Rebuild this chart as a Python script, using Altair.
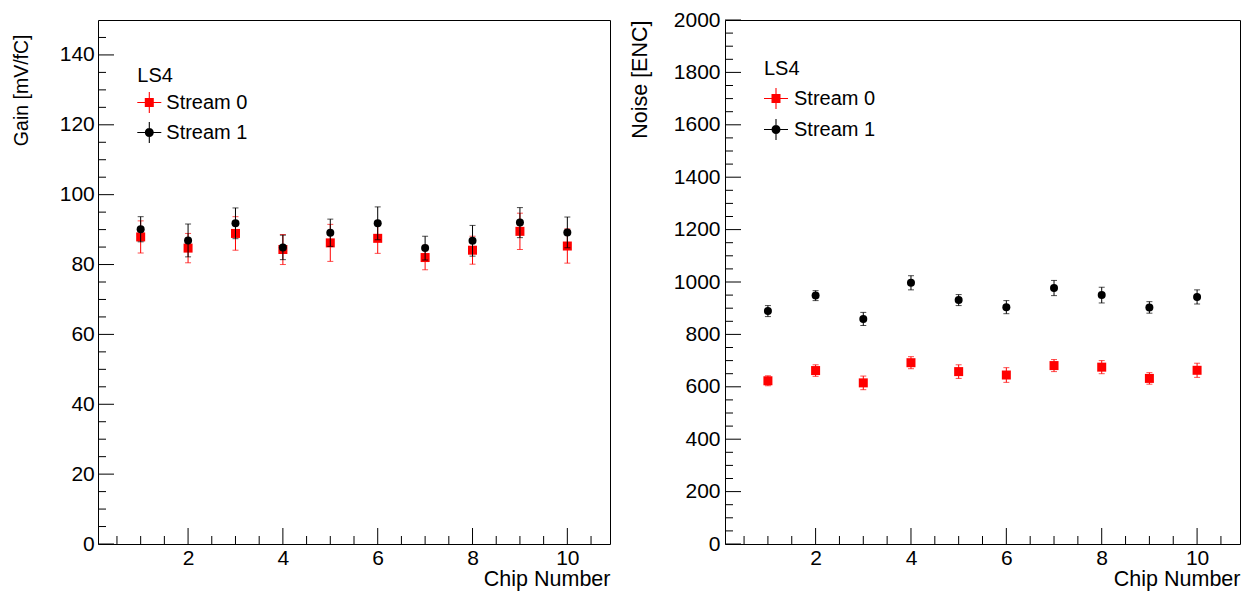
import altair as alt
import pandas as pd

FONT = "Liberation Sans"
AX_FS = 21

chips = [1, 2, 3, 4, 5, 6, 7, 8, 9, 10]
series_names = ["Stream 0", "Stream 1"]
series_colors = ["#ff0000", "#000000"]

gain_s0 = [87.9, 84.7, 88.9, 84.3, 86.2, 87.5, 82.0, 84.1, 89.5, 85.3]
gain_s0_err = [4.6, 4.2, 4.8, 4.3, 5.3, 4.3, 3.5, 4.0, 5.2, 4.9]
gain_s1 = [90.1, 86.9, 91.8, 84.9, 89.1, 91.8, 84.7, 86.8, 92.0, 89.2]
gain_s1_err = [3.6, 4.7, 4.4, 3.5, 3.9, 4.7, 3.4, 4.4, 4.3, 4.4]

noise_s0 = [623, 662, 615, 692, 658, 645, 681, 675, 632, 663]
noise_s0_err = [19, 22, 26, 23, 26, 28, 23, 25, 22, 27]
noise_s1 = [889, 948, 859, 997, 931, 904, 977, 950, 903, 943]
noise_s1_err = [21, 19, 25, 27, 21, 25, 29, 30, 22, 27]

x_major = [2, 4, 6, 8, 10]
x_minor = [0.5, 1, 1.5, 2.5, 3, 3.5, 4.5, 5, 5.5, 6.5, 7, 7.5, 8.5, 9, 9.5, 10.5]
gain_major = [0, 20, 40, 60, 80, 100, 120, 140]
gain_minor = [v for v in range(5, 150, 5) if v % 20]
noise_major = [0, 200, 400, 600, 800, 1000, 1200, 1400, 1600, 1800, 2000]
noise_minor = [v for v in range(50, 2000, 50) if v % 200]

# legend symbols: marker plus error cross (filled polygons)
CROSS = "M-1,-0.045H1V0.045H-1Z M-0.045,-0.875H0.045V0.875H-0.045Z "
SQ_PATH = CROSS + "M-0.375,-0.375H0.375V0.375H-0.375Z"
CI_PATH = CROSS + "M-0.375,0A0.375,0.375 0 1,1 0.375,0A0.375,0.375 0 1,1 -0.375,0Z"


def panel(v0, e0, v1, e1, ymax, ymaj, ymin, ytitle, width, height, ytitle_fs,
          title_x, title_y, leg_x, leg_y, leg_tpad, leg_rpad, leg_loff, label_pad):
    xs = alt.Scale(domain=[0.1, 10.9], nice=False, zero=False)
    ys = alt.Scale(domain=[0, ymax], nice=False, zero=False)
    xaxis = alt.Axis(values=x_major, title="Chip Number", ticks=False, domain=False,
                     grid=False, labelFont=FONT, labelFontSize=AX_FS, labelColor="black",
                     labelPadding=3, labelFlush=False, format="d", titleFont=FONT,
                     titleFontSize=21.5, titleFontWeight="normal", titleColor="black",
                     titleAlign="right", titleAnchor="end", titleBaseline="alphabetic",
                     titleX=width, titleY=41.7)
    yaxis = alt.Axis(values=ymaj, title=ytitle, ticks=False, domain=False, grid=False,
                     labelFont=FONT, labelFontSize=AX_FS, labelColor="black",
                     labelPadding=label_pad, labelFlush=False, format="d", titleFont=FONT,
                     titleFontSize=ytitle_fs, titleFontWeight="normal", titleColor="black",
                     titleAngle=270, titleAlign="right", titleAnchor="end",
                     titleBaseline="middle", titleX=title_x, titleY=title_y)

    def X(f):
        return alt.X(f, type="quantitative", scale=xs, axis=xaxis)

    def Y(f):
        return alt.Y(f, type="quantitative", scale=ys, axis=yaxis)

    layers = []
    frames = []
    for name, vals, errs, color, shape, size in [
        (series_names[0], v0, e0, series_colors[0], "square", 81),
        (series_names[1], v1, e1, series_colors[1], "circle", 64),
    ]:
        d = pd.DataFrame({"chip": chips, "val": vals, "err": errs, "series": name})
        d["lo"] = d["val"] - d["err"]
        d["hi"] = d["val"] + d["err"]
        frames.append(d)
        caps = pd.concat([
            pd.DataFrame({"chip": chips, "v": d["lo"]}),
            pd.DataFrame({"chip": chips, "v": d["hi"]}),
        ])
        layers.append(alt.Chart(d).mark_rule(color=color, strokeWidth=1).encode(
            x=X("chip"), y=Y("lo"), y2="hi"))
        layers.append(alt.Chart(caps).mark_tick(color=color, thickness=1, size=6,
                                                orient="horizontal").encode(
            x=X("chip"), y=Y("v")))
        layers.append(alt.Chart(d).mark_point(shape=shape, filled=True, size=size,
                                              color=color, opacity=1).encode(
            x=X("chip"), y=Y("val")))

    allpts = pd.concat(frames)
    leg = alt.Legend(orient="none", legendX=leg_x, legendY=leg_y, direction="vertical",
                     title="LS4", titleFont=FONT, titleFontSize=20,
                     titleFontWeight="normal", titleColor="black", titlePadding=leg_tpad,
                     labelFont=FONT, labelFontSize=20, labelColor="black",
                     labelOffset=leg_loff, symbolSize=576, symbolOpacity=1,
                     symbolStrokeWidth=0, rowPadding=leg_rpad, padding=0)
    layers.append(alt.Chart(allpts).mark_point(filled=True, opacity=0).encode(
        x=X("chip"), y=Y("val"),
        color=alt.Color("series:N", scale=alt.Scale(domain=series_names,
                                                     range=series_colors), legend=leg),
        shape=alt.Shape("series:N", scale=alt.Scale(domain=series_names,
                                                     range=[SQ_PATH, CI_PATH]), legend=leg),
    ))

    # inward ticks
    layers.append(alt.Chart(pd.DataFrame({"v": x_major})).mark_rule(
        color="black", strokeWidth=1).encode(
        x=X("v"), y=alt.value(height), y2=alt.value(height - 16)))
    layers.append(alt.Chart(pd.DataFrame({"v": x_minor})).mark_rule(
        color="black", strokeWidth=1).encode(
        x=X("v"), y=alt.value(height), y2=alt.value(height - 8)))
    layers.append(alt.Chart(pd.DataFrame({"v": ymaj})).mark_rule(
        color="black", strokeWidth=1).encode(
        y=Y("v"), x=alt.value(0), x2=alt.value(16)))
    layers.append(alt.Chart(pd.DataFrame({"v": ymin})).mark_rule(
        color="black", strokeWidth=1).encode(
        y=Y("v"), x=alt.value(0), x2=alt.value(8)))

    return alt.layer(*layers).properties(width=width, height=height)


H = 524
left = panel(gain_s0, gain_s0_err, gain_s1, gain_s1_err, 150, gain_major, gain_minor,
             "Gain [mV/fC]", 512, H, 19.5, -76.7, 14, 39.3, 45.5, 5, 7, 5, 3.7)
right = panel(noise_s0, noise_s0_err, noise_s1, noise_s1_err, 2000, noise_major,
              noise_minor, "Noise [ENC]", 515, H, 21.5, -84.7, 0, 39, 38.5, 8, 8, 6, 5)

chart = alt.hconcat(left, right, spacing=115, bounds="flush").resolve_scale(
    x="independent", y="independent", color="independent", shape="independent"
).resolve_legend(color="independent", shape="independent").properties(
    padding={"left": 2, "top": 0, "right": 0, "bottom": 0},
    background="white",
).configure_view(stroke="black", strokeWidth=1)

chart.save("out.html", embed_options={"renderer": "svg", "actions": False})
